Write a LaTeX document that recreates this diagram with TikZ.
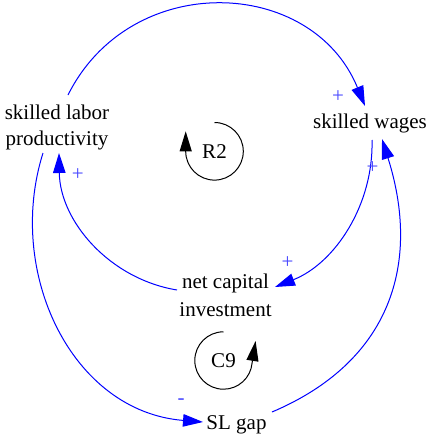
\documentclass[tikz,border=0pt]{standalone}
\usepackage{fontspec}
\setmainfont{Liberation Serif}
\usetikzlibrary{arrows.meta,calc}
\definecolor{edgeblue}{RGB}{0,0,255}
\definecolor{labelblue}{RGB}{70,70,255}
\tikzset{
  var/.style={inner sep=0pt, align=center, font=\fontsize{21}{26}\selectfont},
  loopname/.style={inner sep=0pt, font=\fontsize{21}{26}\selectfont},
  polarity/.style={inner sep=0pt, text=labelblue, font=\fontsize{21}{26}\selectfont},
  link/.style={draw=edgeblue, line width=1pt, -{Triangle[length=20pt,width=12.5pt]}, fill=none},
  loopline/.style={draw=black, line width=1pt, -{Triangle[length=20pt,width=12pt]}}
}
\begin{document}
\begin{tikzpicture}[x=1pt,y=-1pt]
\useasboundingbox (0,0) rectangle (429,437);
% variables
\node[var] (spl) at (57,127.3) {skilled labor\\productivity};
\node[var, anchor=base] (sw) at (370,128) {skilled wages};
\node[var, font=\fontsize{21}{28.5}\selectfont] (nci) at (225.5,295.4) {net capital\\investment};
\node[var, anchor=base] (slg) at (236.5,429) {SL gap};
% loop markers
\node[loopname] (r2) at (214.5,151.3) {R2};
\node[loopname] (c9) at (223.5,360.5) {C9};
% links
\draw[link] ($(spl)+(11,-32.3)$) .. controls (130.7,-30.2) and (311.9,-23.5) .. ($(sw.base)+(-5,-22)$);
\draw[link] ($(sw.base)+(2,12)$) .. controls (373.7,204.6) and (335.1,263.2) .. ($(nci)+(49.5,-8.4)$);
\draw[link] ($(nci)+(-48.5,-5.4)$) .. controls (109.6,278.9) and (60,221.3) .. ($(spl)+(2,25.7)$);
\draw[link] ($(spl)+(-14,25.7)$) .. controls (5.5,271.8) and (71.2,411.4) .. ($(slg.base)+(-33.5,-7)$);
\draw[link] ($(slg.base)+(35.5,-17)$) .. controls (391.6,361.3) and (421,262.5) .. ($(sw.base)+(12,11)$);
% polarities
\node[polarity] (p1) at (338,97) {+};
\node[polarity] (p2) at (287.5,263) {+};
\node[polarity] (p3) at (77.7,174.3) {+};
\node[polarity] (p4) at (181,402) {-};
\node[polarity] (p5) at (372.5,168) {+};
% loop arcs
\draw[loopline] ($(r2)+(0,-28.8)$) arc[start angle=90, end angle=-180, radius=28.8pt] -- ++(0,-20);
\draw[loopline] ($(c9)+(0,-28.7)$) arc[start angle=90, end angle=355, radius=28.7pt] -- ++(3.5,-22);
\end{tikzpicture}
\end{document}
